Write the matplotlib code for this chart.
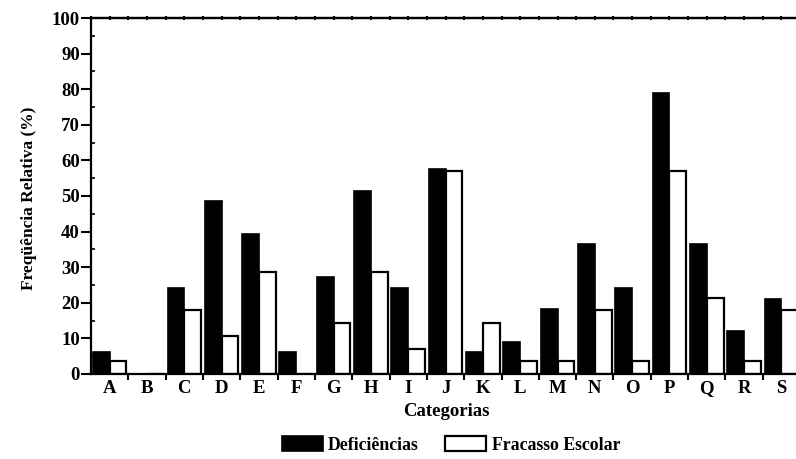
import numpy as np
import matplotlib
matplotlib.use("Agg")
import matplotlib.pyplot as plt
from matplotlib.ticker import MultipleLocator, FixedLocator, NullFormatter

categorias = ["A", "B", "C", "D", "E", "F", "G", "H", "I", "J",
              "K", "L", "M", "N", "O", "P", "Q", "R", "S"]
deficiencias = [6.1, 0.0, 24.2, 48.5, 39.4, 6.1, 27.3, 51.5, 24.2, 57.6,
                6.1, 9.1, 18.2, 36.4, 24.2, 78.8, 36.4, 12.1, 21.2]
fracasso_escolar = [3.6, 0.0, 17.9, 10.7, 28.6, 0.0, 14.3, 28.6, 7.1, 57.1,
                    14.3, 3.6, 3.6, 17.9, 3.6, 57.1, 21.4, 3.6, 17.9]
y_ticks = [0, 10, 20, 30, 40, 50, 60, 70, 80, 90, 100]

plt.rcParams["font.family"] = ["Liberation Serif", "DejaVu Serif"]
plt.rcParams["font.weight"] = "bold"

fig = plt.figure(figsize=(7.96, 4.59), dpi=100)
ax = fig.add_axes([91 / 796, 85 / 459, 1 - 91 / 796, 356 / 459])

x = np.arange(len(categorias))
w = 0.45
b1 = ax.bar(x - w, deficiencias, width=w, align="edge", color="black",
            edgecolor="black", linewidth=1.2, label="Deficiências")
b2 = ax.bar(x, fracasso_escolar, width=w, align="edge", color="white",
            edgecolor="black", linewidth=1.6, label="Fracasso Escolar")

ax.set_xlim(-0.5, 18.39)
ax.set_ylim(0, 100)

for s in ["left", "bottom", "top"]:
    ax.spines[s].set_linewidth(1.6)
ax.spines["right"].set_visible(False)

ax.set_xticks(x)
ax.set_xticklabels(categorias, fontsize=13.5, fontweight="bold")
ax.xaxis.set_minor_locator(FixedLocator(np.arange(0.5, 19, 1.0)))
ax.tick_params(axis="x", which="major", length=0, pad=4)
ax.tick_params(axis="x", which="minor", length=4, width=1.5, direction="out")

ax.set_yticks(y_ticks)
ax.set_yticklabels([str(v) for v in y_ticks], fontsize=13.5, fontweight="bold")
ax.yaxis.set_minor_locator(MultipleLocator(5))
ax.tick_params(axis="y", which="major", length=7, width=1.5, direction="out", pad=1)
ax.tick_params(axis="y", which="minor", length=3, width=1.2, direction="in")

top = ax.secondary_xaxis("top")
top.set_xticks(np.arange(-0.5, 19, 0.5))
top.xaxis.set_major_formatter(NullFormatter())
top.tick_params(axis="x", length=3, width=1.5, direction="inout")
top.spines["top"].set_linewidth(1.6)

ax.set_xlabel("Categorias", fontsize=13.5, fontweight="bold")
ax.set_ylabel("Freqüência Relativa (%)", fontsize=12.5, fontweight="bold")
ax.xaxis.set_label_coords((446 - 91) / (796 - 91), -(412 - 374) / 356, transform=ax.transAxes)
ax.yaxis.set_label_coords(-(91 - 29) / (796 - 91), (374 - 198) / 356, transform=ax.transAxes)
ax.xaxis.label.set_verticalalignment("center")
ax.yaxis.label.set_verticalalignment("center")

leg = fig.legend(handles=[b1, b2], loc="center", bbox_to_anchor=(451 / 796, 1 - 445 / 459),
                 ncol=2, frameon=False, prop={"weight": "bold", "size": 12.8},
                 handlelength=2.3, handleheight=0.95, handletextpad=0.3, columnspacing=1.5)

fig.savefig("out.png", dpi=100)
